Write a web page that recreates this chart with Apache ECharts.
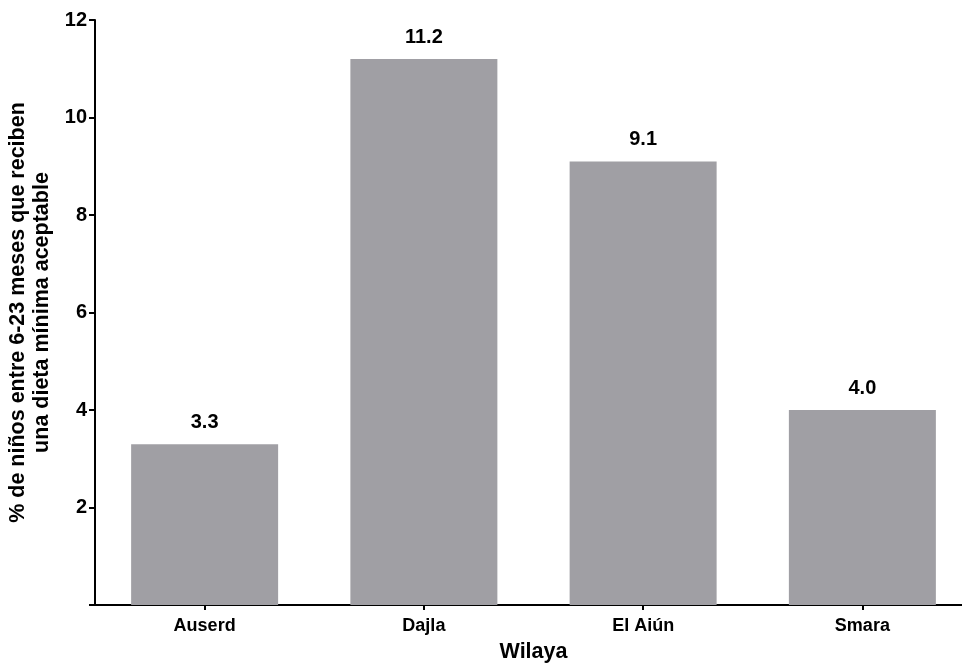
<!DOCTYPE html>
<html>
<head>
<meta charset="utf-8">
<script src="https://cdn.jsdelivr.net/npm/echarts@6/dist/echarts.min.js"></script>
<style>
html,body{margin:0;padding:0;background:#fff;}
#chart{width:962px;height:666px;}
</style>
</head>
<body>
<div id="chart"></div>
<script>
const categories = ['Auserd', 'Dajla', 'El Aiún', 'Smara'];
const values = [3.3, 11.2, 9.1, 4.0];
const yTicks = [2, 4, 6, 8, 10, 12];
const xTitle = 'Wilaya';
const yTitle = '% de niños entre 6-23 meses que reciben\nuna dieta mínima aceptable';

const FONT = '"Liberation Sans", Arial, sans-serif';
const chart = echarts.init(document.getElementById('chart'), null, {renderer: 'canvas'});
chart.setOption({
  animation: false,
  backgroundColor: '#ffffff',
  grid: {left: 95, top: 20, width: 877, height: 585, containLabel: false, outerBoundsMode: 'none'},
  xAxis: {
    type: 'category',
    data: categories,
    name: xTitle,
    nameLocation: 'middle',
    nameGap: 36,
    nameTextStyle: {fontFamily: FONT, fontWeight: 'bold', fontSize: 21.5, color: '#000'},
    axisLine: {show: true, lineStyle: {color: '#000', width: 2}},
    axisTick: {show: true, alignWithLabel: true, length: 5, lineStyle: {color: '#000', width: 2}},
    axisLabel: {fontFamily: FONT, fontWeight: 'bold', fontSize: 18, color: '#000', margin: 12},
    splitLine: {show: false}
  },
  yAxis: {
    type: 'value',
    min: 0,
    max: 12,
    interval: 2,
    name: yTitle,
    nameLocation: 'middle',
    nameGap: 34,
    nameRotate: 90,
    nameTextStyle: {fontFamily: FONT, fontWeight: 'bold', fontSize: 21.5, color: '#000', lineHeight: 24, align: 'center'},
    axisLine: {show: true, lineStyle: {color: '#000', width: 2}},
    axisTick: {show: true, length: 6, lineStyle: {color: '#000', width: 2}},
    axisLabel: {
      fontFamily: FONT, fontWeight: 'bold', fontSize: 20, color: '#000', margin: 8,
      formatter: function (v) { return yTicks.indexOf(v) >= 0 ? String(v) : ''; }
    },
    splitLine: {show: false}
  },
  series: [{
    type: 'bar',
    data: values,
    barWidth: 147,
    itemStyle: {color: '#a09fa4'},
    label: {
      show: true,
      position: 'top',
      distance: 12,
      fontFamily: FONT,
      fontWeight: 'bold',
      fontSize: 20,
      color: '#000',
      formatter: function (p) { return p.value.toFixed(1); }
    }
  }]
});
</script>
</body>
</html>
